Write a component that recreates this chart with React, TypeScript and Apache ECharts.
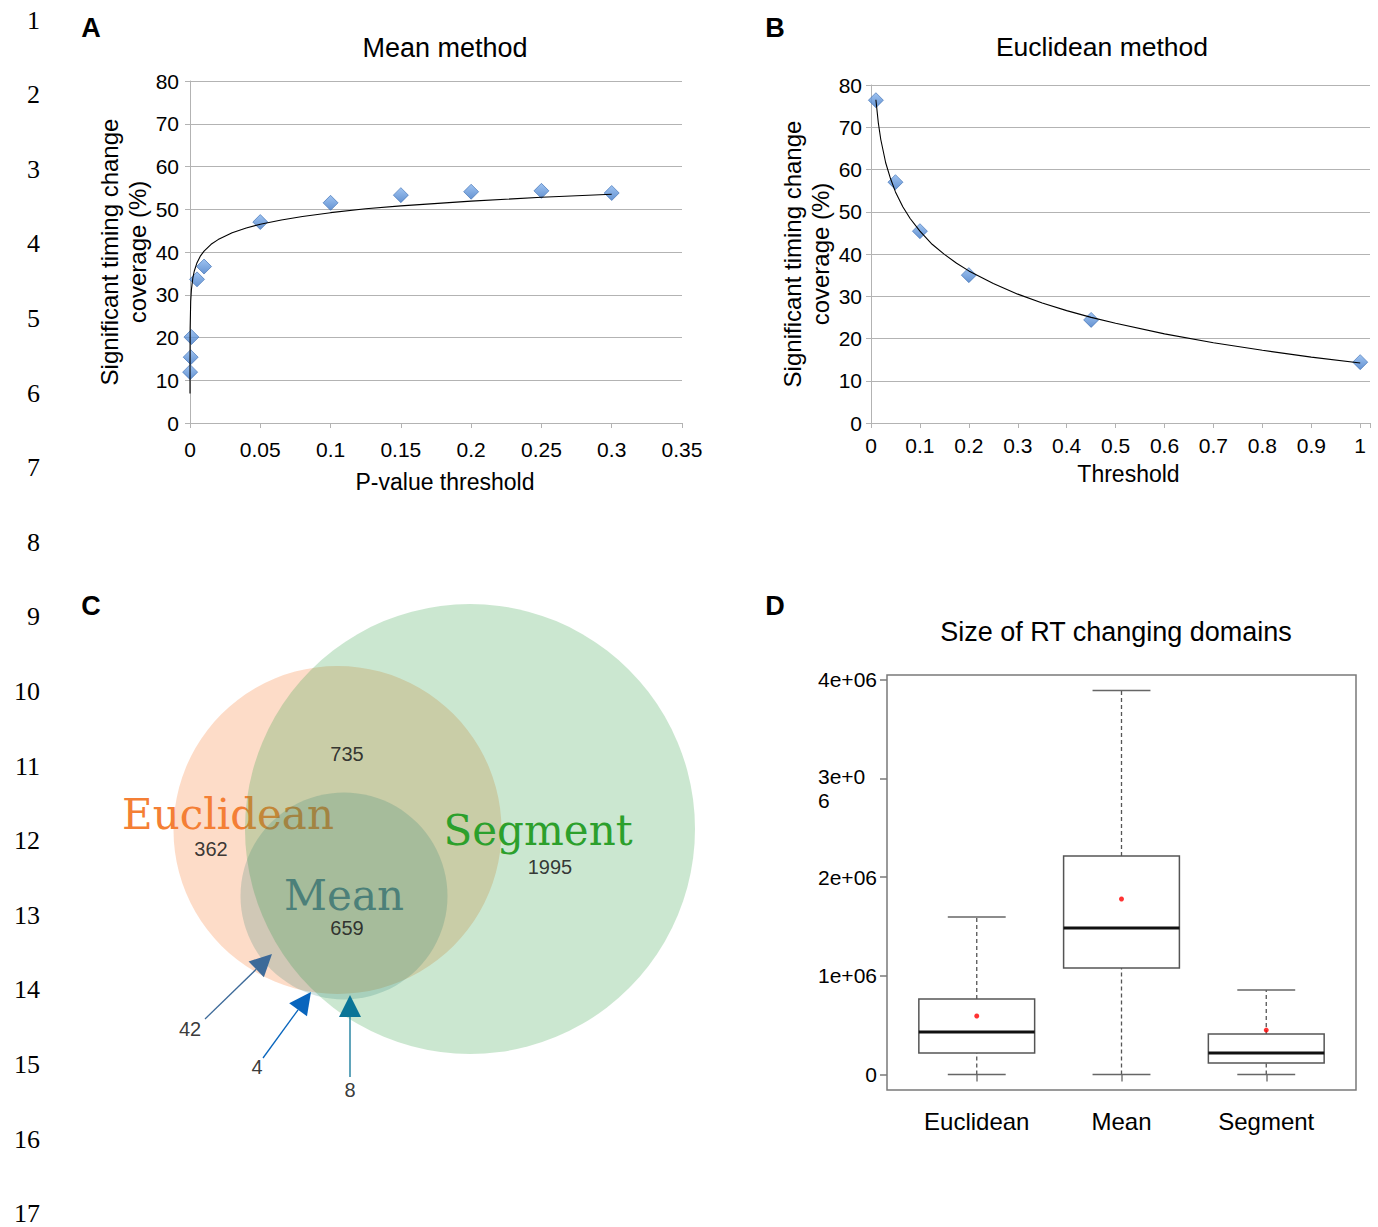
import React, { useEffect, useRef } from "react";
import * as echarts from "echarts";

// ---------- Panel A: Mean method ----------
const meanThreshold = [0.0001, 0.0005, 0.001, 0.005, 0.01, 0.05, 0.1, 0.15, 0.2, 0.25, 0.3];
const meanCoverage = [11.9, 15.4, 20.1, 33.6, 36.6, 47.0, 51.5, 53.3, 54.1, 54.3, 53.8];
const meanTrendX = [0.000002, 0.00001, 0.0001, 0.0005, 0.001, 0.002, 0.003, 0.005, 0.0075, 0.01, 0.015, 0.02, 0.03, 0.04, 0.05, 0.065, 0.08, 0.1, 0.125, 0.15, 0.2, 0.25, 0.3];
const meanTrendY = [6.9, 13.2, 22.2, 28.5, 31.2, 33.9, 35.5, 37.5, 39.1, 40.2, 41.8, 42.9, 44.5, 45.6, 46.5, 47.5, 48.3, 49.2, 50.1, 50.8, 51.9, 52.8, 53.5];

// ---------- Panel B: Euclidean method ----------
const euclThreshold = [0.01, 0.05, 0.1, 0.2, 0.45, 1.0];
const euclCoverage = [76.4, 57.0, 45.4, 35.0, 24.4, 14.4];
const euclTrendX = [0.01, 0.015, 0.02, 0.03, 0.04, 0.05, 0.065, 0.08, 0.1, 0.125, 0.15, 0.175, 0.2, 0.25, 0.3, 0.35, 0.4, 0.45, 0.5, 0.6, 0.7, 0.8, 0.9, 1.0];
const euclTrendY = [76.5, 71.0, 67.1, 61.6, 57.8, 54.7, 51.2, 48.4, 45.4, 42.3, 39.9, 37.8, 36.0, 33.0, 30.5, 28.4, 26.6, 25.0, 23.6, 21.1, 19.0, 17.2, 15.6, 14.2];
const euclTickValues = [0, 0.1, 0.2, 0.3, 0.4, 0.5, 0.6, 0.7, 0.8, 0.9, 1];

// ---------- Panel C: Venn diagram (layout units) ----------
const vennSets = ["Euclidean", "Segment", "Mean"];
const vennCx = [237.5, 370, 244];
const vennCy = [240, 239, 306];
const vennR = [164, 225, 103.5];
const vennNameX = [128, 438, 244];
const vennNameY = [224, 240, 305];
const vennCountLabels = ["735", "362", "1995", "659", "42", "4", "8"];
const vennCountX = [247, 111, 450, 247, 90, 157, 250];
const vennCountY = [164, 259, 277, 338, 439, 477, 500];
const arrowFromX = [105, 163, 250];
const arrowFromY = [429, 468, 487];
const arrowToX = [172, 211, 250];
const arrowToY = [364, 402, 405];

// ---------- Panel D: Size of RT changing domains ----------
const domainMethods = ["Euclidean", "Mean", "Segment"];
const domainMin = [0, 0, 0];
const domainQ1 = [219000, 1079000, 117000];
const domainMedian = [431000, 1484000, 219000];
const domainQ3 = [765000, 2213000, 411000];
const domainMax = [1595000, 3890000, 856000];
const domainMean = [593000, 1778000, 451000];
const domainTicks = [0, 1000000, 2000000, 3000000, 4000000];
const domainTickLabels = ["0", "1e+06", "2e+06", "3e+06", "4e+06"];

const lineNumbers = [1, 2, 3, 4, 5, 6, 7, 8, 9, 10, 11, 12, 13, 14, 15, 16, 17];

const SANS = "'Liberation Sans', Arial, sans-serif";
const SERIF = "'Liberation Serif', 'Times New Roman', serif";
const VENN_FONT = "'DejaVu Serif', serif";
const GRID_GRAY = "#b3b3b3";

const vennFill = ["rgba(247,129,58,0.28)", "rgba(47,159,67,0.25)", "rgba(30,120,110,0.2)"];
const vennTextColor = ["#f47f35", "#2ca02c", "#4c8079"];
const arrowColor = ["#3d6a99", "#0865bd", "#0b7597"];

function txt(x: number, y: number, text: string, font: string, fill: string, align = "center") {
  return {
    type: "text",
    x,
    y,
    silent: true,
    style: {
      text,
      font,
      fill,
      align,
      textAlign: align,
      verticalAlign: "middle",
      textVerticalAlign: "middle",
    },
  };
}

function diamondStyle() {
  return {
    color: new echarts.graphic.LinearGradient(0, 0, 0, 1, [
      { offset: 0, color: "#86b4ee" },
      { offset: 1, color: "#3f78c6" },
    ]),
    borderColor: "#3a6cb2",
    borderWidth: 0.8,
  };
}

function chartAxisY(gridIndex: number, nameGap: number, padTop: number, margin: number) {
  return {
    gridIndex,
    type: "value",
    min: 0,
    max: 80,
    interval: 10,
    axisLine: { show: true, lineStyle: { color: GRID_GRAY } },
    axisTick: { show: true, length: 5, lineStyle: { color: GRID_GRAY } },
    splitLine: { show: true, lineStyle: { color: GRID_GRAY, width: 1 } },
    axisLabel: { fontSize: 21, color: "#000", margin, padding: [padTop, 0, 0, 0], fontFamily: SANS },
    name: "Significant timing change\ncoverage (%)",
    nameLocation: "middle",
    nameRotate: 90,
    nameGap,
    nameTextStyle: { fontSize: 24, color: "#000", lineHeight: 28, fontFamily: SANS },
  };
}

function buildOption() {
  const graphic: any[] = [];
  lineNumbers.forEach((n, i) => {
    graphic.push(txt(40, 20 + i * 74.6, String(n), `26px ${SERIF}`, "#000", "right"));
  });
  graphic.push(txt(91, 28, "A", `bold 27px ${SANS}`, "#000"));
  graphic.push(txt(775, 28, "B", `bold 27px ${SANS}`, "#000"));
  graphic.push(txt(91, 606, "C", `bold 27px ${SANS}`, "#000"));
  graphic.push(txt(775, 606, "D", `bold 27px ${SANS}`, "#000"));
  graphic.push(txt(445, 48, "Mean method", `27px ${SANS}`, "#000"));
  graphic.push(txt(1102, 47, "Euclidean method", `26.5px ${SANS}`, "#000"));
  graphic.push(txt(1116, 632, "Size of RT changing domains", `27px ${SANS}`, "#000"));

  return {
    animation: false,
    backgroundColor: "#ffffff",
    textStyle: { fontFamily: SANS },
    graphic,
    grid: [
      { left: 190, top: 81, width: 492, height: 342 },
      { left: 871, top: 85, width: 499, height: 338 },
      { left: 100, top: 590, width: 620, height: 520 },
      {
        left: 887,
        top: 675,
        width: 469,
        height: 415,
        show: true,
        borderColor: "#7a7a7a",
        borderWidth: 1.5,
        backgroundColor: "transparent",
      },
    ],
    xAxis: [
      {
        gridIndex: 0,
        type: "value",
        min: 0,
        max: 0.35,
        interval: 0.05,
        axisLine: { show: true, onZero: false, lineStyle: { color: GRID_GRAY } },
        axisTick: { show: true, length: 5, lineStyle: { color: GRID_GRAY } },
        splitLine: { show: false },
        axisLabel: { fontSize: 21, color: "#000", margin: 16 },
        name: "P-value threshold",
        nameLocation: "middle",
        nameGap: 47,
        nameTextStyle: { fontSize: 23, color: "#000", padding: [0, 0, 0, 18] },
      },
      {
        gridIndex: 1,
        type: "value",
        min: 0,
        max: 1.02,
        axisLine: { show: true, onZero: false, lineStyle: { color: GRID_GRAY } },
        axisTick: { show: true, length: 5, customValues: euclTickValues.concat([1.02]), lineStyle: { color: GRID_GRAY } },
        splitLine: { show: false },
        axisLabel: {
          fontSize: 21,
          color: "#000",
          margin: 12,
          customValues: euclTickValues,
          formatter: (v: number) => String(Math.round(v * 10) / 10),
        },
        name: "Threshold",
        nameLocation: "middle",
        nameGap: 39,
        nameTextStyle: { fontSize: 23, color: "#000", padding: [0, 0, 0, 16] },
      },
      { gridIndex: 2, type: "value", min: 0, max: 620, show: false },
      {
        gridIndex: 3,
        type: "value",
        min: 0.38,
        max: 3.62,
        axisLine: { show: false },
        splitLine: { show: false },
        axisTick: { show: true, length: 7, customValues: [1, 2, 3], lineStyle: { color: "#7a7a7a", width: 1.5 } },
        axisLabel: {
          customValues: [1, 2, 3],
          formatter: (v: number) => domainMethods[Math.round(v) - 1] ?? "",
          fontSize: 24,
          color: "#000",
          margin: 19,
        },
      },
    ],
    yAxis: [
      chartAxisY(0, 25, 9, 11),
      chartAxisY(1, 22, 6, 9),
      { gridIndex: 2, type: "value", min: 0, max: 520, inverse: true, show: false },
      {
        gridIndex: 3,
        type: "value",
        min: -156000,
        max: 4046000,
        axisLine: { show: false },
        splitLine: { show: false },
        axisTick: { show: true, length: 7, customValues: domainTicks, lineStyle: { color: "#7a7a7a", width: 1.5 } },
        axisLabel: {
          customValues: domainTicks,
          fontSize: 21,
          color: "#000",
          margin: 10,
          formatter: (v: number) => {
            const i = domainTicks.findIndex((t) => Math.abs(t - v) < 1);
            const lab = i >= 0 ? domainTickLabels[i] : "";
            if (lab === "3e+06") return "{e| }\n{w|3e+0}\n{w|6}";
            return lab;
          },
          rich: {
            e: { lineHeight: 20, fontSize: 10 },
            w: { width: 59, align: "left", fontSize: 21, lineHeight: 24, color: "#000", fontFamily: SANS },
          },
        },
      },
    ],
    series: [
      {
        type: "scatter",
        xAxisIndex: 0,
        yAxisIndex: 0,
        silent: true,
        symbol: "diamond",
        symbolSize: 15,
        itemStyle: diamondStyle(),
        data: meanThreshold.map((x, i) => [x, meanCoverage[i]]),
      },
      {
        type: "line",
        xAxisIndex: 0,
        yAxisIndex: 0,
        silent: true,
        showSymbol: false,
        smooth: false,
        lineStyle: { color: "#000", width: 1.1 },
        data: meanTrendX.map((x, i) => [x, meanTrendY[i]]),
      },
      {
        type: "scatter",
        xAxisIndex: 1,
        yAxisIndex: 1,
        silent: true,
        symbol: "diamond",
        symbolSize: 15,
        itemStyle: diamondStyle(),
        data: euclThreshold.map((x, i) => [x, euclCoverage[i]]),
      },
      {
        type: "line",
        xAxisIndex: 1,
        yAxisIndex: 1,
        silent: true,
        showSymbol: false,
        smooth: false,
        lineStyle: { color: "#000", width: 1.1 },
        data: euclTrendX.map((x, i) => [x, euclTrendY[i]]),
      },
      // Venn circles with set names
      {
        type: "custom",
        xAxisIndex: 2,
        yAxisIndex: 2,
        silent: true,
        clip: false,
        data: vennSets.map((_, i) => [vennCx[i], vennCy[i], vennR[i], vennNameX[i], vennNameY[i]]),
        renderItem: (params: any, api: any) => {
          const i = params.dataIndex;
          const c = api.coord([api.value(0), api.value(1)]);
          const r = Math.abs(api.size([api.value(2), api.value(2)])[0]);
          const n = api.coord([api.value(3), api.value(4)]);
          return {
            type: "group",
            children: [
              { type: "circle", shape: { cx: c[0], cy: c[1], r }, style: { fill: vennFill[i] } },
              {
                type: "text",
                x: n[0],
                y: n[1],
                style: {
                  text: vennSets[i],
                  fontSize: 42,
                  fontFamily: VENN_FONT,
                  lineHeight: 30,
                  fill: vennTextColor[i],
                  align: "center",
                  textAlign: "center",
                  verticalAlign: "middle",
                  textVerticalAlign: "middle",
                },
              },
            ],
          };
        },
      },
      // Arrows
      {
        type: "custom",
        xAxisIndex: 2,
        yAxisIndex: 2,
        silent: true,
        clip: false,
        data: arrowFromX.map((_, i) => [arrowFromX[i], arrowFromY[i], arrowToX[i], arrowToY[i]]),
        renderItem: (params: any, api: any) => {
          const i = params.dataIndex;
          const p1 = api.coord([api.value(0), api.value(1)]);
          const p2 = api.coord([api.value(2), api.value(3)]);
          const dx = p2[0] - p1[0];
          const dy = p2[1] - p1[1];
          const len = Math.sqrt(dx * dx + dy * dy);
          const ux = dx / len;
          const uy = dy / len;
          const headL = 22;
          const headW = 11;
          const bx = p2[0] - ux * headL;
          const by = p2[1] - uy * headL;
          return {
            type: "group",
            children: [
              {
                type: "line",
                shape: { x1: p1[0], y1: p1[1], x2: bx, y2: by },
                style: { stroke: arrowColor[i], lineWidth: 1.3 },
              },
              {
                type: "polygon",
                shape: {
                  points: [
                    [p2[0], p2[1]],
                    [bx - uy * headW, by + ux * headW],
                    [bx + uy * headW, by - ux * headW],
                  ],
                },
                style: { fill: arrowColor[i] },
              },
            ],
          };
        },
      },
      // Counts
      {
        type: "custom",
        xAxisIndex: 2,
        yAxisIndex: 2,
        silent: true,
        clip: false,
        data: vennCountLabels.map((_, i) => [vennCountX[i], vennCountY[i]]),
        renderItem: (params: any, api: any) => {
          const i = params.dataIndex;
          const p = api.coord([api.value(0), api.value(1)]);
          return {
            type: "text",
            x: p[0],
            y: p[1],
            style: {
              text: vennCountLabels[i],
              fontSize: 20,
              fontFamily: SANS,
              lineHeight: 20,
              fill: "#222",
              opacity: 0.9,
              align: "center",
              textAlign: "center",
              verticalAlign: "middle",
              textVerticalAlign: "middle",
            },
          };
        },
      },
      // Box plot
      {
        type: "custom",
        xAxisIndex: 3,
        yAxisIndex: 3,
        silent: true,
        encode: { x: 0, y: [1, 2, 3, 4, 5] },
        data: domainMethods.map((_, i) => [i + 1, domainMin[i], domainQ1[i], domainMedian[i], domainQ3[i], domainMax[i]]),
        renderItem: (params: any, api: any) => {
          const x = api.value(0);
          const pMin = api.coord([x, api.value(1)]);
          const pQ1 = api.coord([x, api.value(2)]);
          const pMed = api.coord([x, api.value(3)]);
          const pQ3 = api.coord([x, api.value(4)]);
          const pMax = api.coord([x, api.value(5)]);
          const xl = api.coord([x - 0.4, 0])[0];
          const xr = api.coord([x + 0.4, 0])[0];
          const cl = api.coord([x - 0.2, 0])[0];
          const cr = api.coord([x + 0.2, 0])[0];
          const xc = pMed[0];
          const wh = { stroke: "#555", lineWidth: 1.3, lineDash: [4, 3] };
          const cap = { stroke: "#666", lineWidth: 1.5 };
          return {
            type: "group",
            children: [
              { type: "line", shape: { x1: xc, y1: pMin[1], x2: xc, y2: pQ1[1] }, style: wh },
              { type: "line", shape: { x1: xc, y1: pQ3[1], x2: xc, y2: pMax[1] }, style: wh },
              { type: "line", shape: { x1: cl, y1: pMin[1], x2: cr, y2: pMin[1] }, style: cap },
              { type: "line", shape: { x1: cl, y1: pMax[1], x2: cr, y2: pMax[1] }, style: cap },
              {
                type: "rect",
                shape: { x: xl, y: pQ3[1], width: xr - xl, height: pQ1[1] - pQ3[1] },
                style: { fill: "#fff", stroke: "#555", lineWidth: 1.5 },
              },
              { type: "line", shape: { x1: xl, y1: pMed[1], x2: xr, y2: pMed[1] }, style: { stroke: "#111", lineWidth: 3 } },
            ],
          };
        },
      },
      {
        type: "scatter",
        xAxisIndex: 3,
        yAxisIndex: 3,
        silent: true,
        symbol: "circle",
        symbolSize: 5,
        itemStyle: { color: "#ff0000" },
        data: domainMean.map((v, i) => [i + 1, v]),
      },
    ],
  };
}

export default function App() {
  const ref = useRef<HTMLDivElement>(null);
  useEffect(() => {
    if (!ref.current) return;
    const chart = echarts.init(ref.current, null, { renderer: "svg" });
    chart.setOption(buildOption() as any);
    return () => {
      chart.dispose();
    };
  }, []);
  return (
    <div
      ref={ref}
      style={{ position: "absolute", left: 0, top: 0, width: 1378, height: 1227, background: "#fff" }}
    />
  );
}
